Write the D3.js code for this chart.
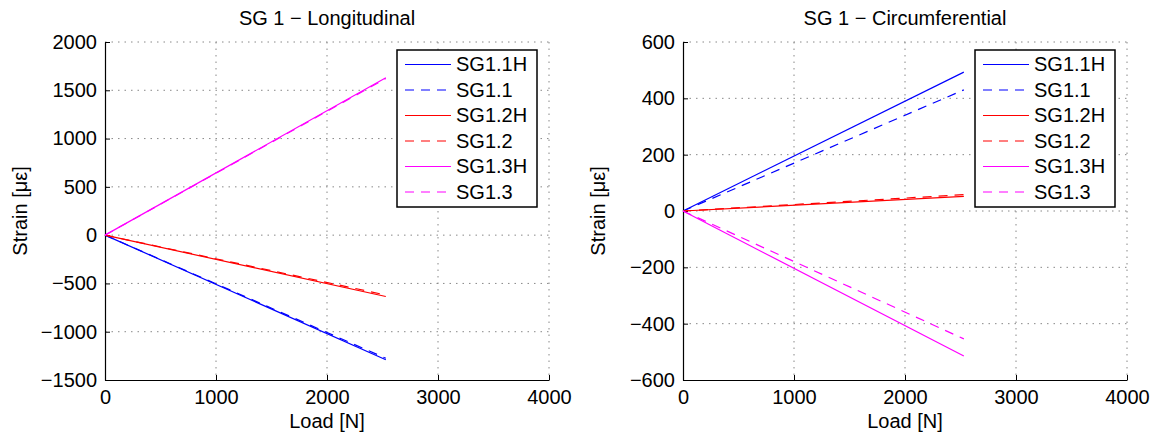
<!DOCTYPE html>
<html>
<head>
<meta charset="utf-8">
<script src="https://cdn.jsdelivr.net/npm/d3@7"></script>
<style>
  body { margin: 0; background: #fff; }
  text { font-family: 'Liberation Sans', Arial, sans-serif; fill: #000; }
</style>
</head>
<body>
<div id="drawArea"></div>
<script>
const seriesNames = ['SG1.1H', 'SG1.1', 'SG1.2H', 'SG1.2', 'SG1.3H', 'SG1.3'];
const loadN = [0, 2530];
// strain at each load, one pair per series
const longitudinal = [[0, -1290], [0, -1275], [0, -635], [0, -620], [0, 1630], [0, 1622]];
const circumferential = [[0, 493], [0, 430], [0, 52], [0, 58], [0, -515], [0, -454]];
const xTicks = [0, 1000, 2000, 3000, 4000];
const longTicks = [-1500, -1000, -500, 0, 500, 1000, 1500, 2000];
const circTicks = [-600, -400, -200, 0, 200, 400, 600];

const colors = ['#0000ff', '#0000ff', '#ff0000', '#ff0000', '#ff00ff', '#ff00ff'];
const dashes = ['none', '9,7', 'none', '9,7', 'none', '9,7'];

const width = 1156, height = 434;
const fmt = d => (d < 0 ? '\u2212' + Math.abs(d) : String(d));

const svg = d3.select('#drawArea').append('svg')
  .attr('width', width)
  .attr('height', height);

function drawPanel(left, title, values, yTicks) {
  const w = 444, h = 338, top = 42;
  const g = svg.append('g').attr('transform', `translate(${left}, ${top})`);

  const x = d3.scaleLinear().domain([0, 4000]).range([0, w]);
  const y = d3.scaleLinear().domain([yTicks[0], yTicks[yTicks.length - 1]]).range([h, 0]);

  // dotted grid
  g.append('g').selectAll('line')
    .data(xTicks.slice(1))
    .enter().append('line')
    .attr('x1', d => x(d)).attr('x2', d => x(d))
    .attr('y1', 0).attr('y2', h)
    .attr('stroke', '#888').attr('stroke-dasharray', '1.5,5');
  g.append('g').selectAll('line')
    .data(yTicks.slice(1))
    .enter().append('line')
    .attr('x1', 0).attr('x2', w)
    .attr('y1', d => y(d)).attr('y2', d => y(d))
    .attr('stroke', '#888').attr('stroke-dasharray', '1.5,5');

  // axes, ticks pointing inwards like matlab
  const xAxis = g.append('g')
    .attr('transform', `translate(0, ${h})`)
    .call(d3.axisBottom(x).tickValues(xTicks).tickFormat(fmt).tickSizeInner(-5).tickSizeOuter(0).tickPadding(10));
  const yAxis = g.append('g')
    .call(d3.axisLeft(y).tickValues(yTicks).tickFormat(fmt).tickSizeInner(-5).tickSizeOuter(0).tickPadding(8));
  [xAxis, yAxis].forEach(a => {
    a.select('.domain').attr('stroke', '#000').attr('stroke-width', 1.2);
    a.selectAll('.tick line').attr('stroke', '#000');
    a.selectAll('text').attr('font-size', 20).attr('font-family', "'Liberation Sans', Arial, sans-serif");
  });

  const line = d3.line()
    .x((d, i) => x(loadN[i]))
    .y(d => y(d));

  g.append('g').selectAll('path')
    .data(values)
    .enter().append('path')
    .attr('d', d => line(d))
    .attr('fill', 'none')
    .attr('stroke', (d, i) => colors[i])
    .attr('stroke-width', 1.2)
    .attr('stroke-dasharray', (d, i) => dashes[i]);

  g.append('text')
    .text(title)
    .attr('x', w / 2).attr('y', -17)
    .attr('text-anchor', 'middle')
    .attr('font-size', 20);

  g.append('text')
    .text('Load [N]')
    .attr('x', w / 2).attr('y', h + 48)
    .attr('text-anchor', 'middle')
    .attr('font-size', 20);

  g.append('text')
    .text('Strain [\u03bc\u03b5]')
    .attr('transform', `translate(-78, ${h / 2}) rotate(-90)`)
    .attr('text-anchor', 'middle')
    .attr('font-size', 20);

  // legend
  const lg = g.append('g').attr('transform', `translate(${w - 152}, 8)`);
  lg.append('rect')
    .attr('width', 140).attr('height', 157)
    .attr('fill', '#fff').attr('stroke', '#000').attr('stroke-width', 1.5);
  const items = seriesNames.map((name, i) => ({ name, color: colors[i], dash: dashes[i], i }));
  const row = lg.selectAll('.row')
    .data(items)
    .enter().append('g')
    .attr('class', 'row')
    .attr('transform', d => `translate(0, ${14 + d.i * 25.5})`);
  row.append('line')
    .attr('x1', 8).attr('x2', 54)
    .attr('y1', 0.5).attr('y2', 0.5)
    .style('stroke', d => d.color)
    .style('stroke-width', 1.2)
    .style('stroke-dasharray', d => d.dash);
  row.append('text')
    .text(d => d.name)
    .attr('x', 59).attr('y', 7)
    .attr('font-size', 20);
}

drawPanel(105, 'SG 1 \u2212 Longitudinal', longitudinal, longTicks);
drawPanel(683, 'SG 1 \u2212 Circumferential', circumferential, circTicks);
</script>
</body>
</html>
